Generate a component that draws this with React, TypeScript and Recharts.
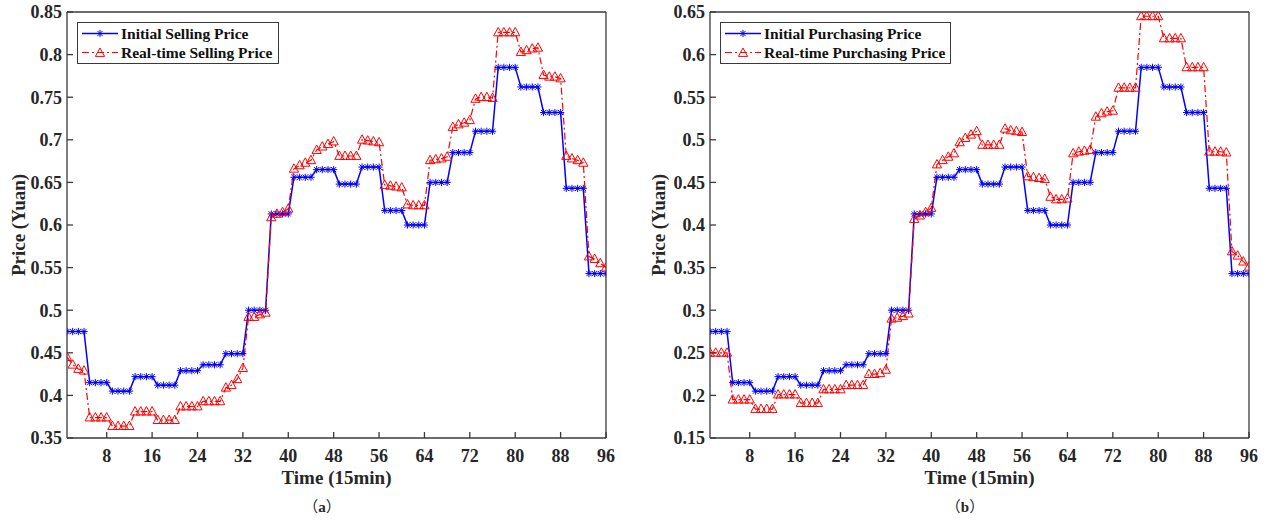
import React from 'react';
import { LineChart, Line, XAxis, YAxis, Legend } from 'recharts';

// 96 quarter-hour slots of one day
const timeSlots = Array.from({ length: 96 }, (_, i) => i + 1);
const xTicks = [8, 16, 24, 32, 40, 48, 56, 64, 72, 80, 88, 96];
const sellingTicks = [0.35, 0.4, 0.45, 0.5, 0.55, 0.6, 0.65, 0.7, 0.75, 0.8, 0.85];
const purchasingTicks = [0.15, 0.2, 0.25, 0.3, 0.35, 0.4, 0.45, 0.5, 0.55, 0.6, 0.65];

const initialSelling = [
  0.475, 0.475, 0.475, 0.475, 0.415, 0.415, 0.415, 0.415, 0.405, 0.405, 0.405, 0.405,
  0.422, 0.422, 0.422, 0.422, 0.412, 0.412, 0.412, 0.412, 0.429, 0.429, 0.429, 0.429,
  0.436, 0.436, 0.436, 0.436, 0.449, 0.449, 0.449, 0.449, 0.5, 0.5, 0.5, 0.5,
  0.613, 0.613, 0.613, 0.613, 0.656, 0.656, 0.656, 0.656, 0.665, 0.665, 0.665, 0.665,
  0.648, 0.648, 0.648, 0.648, 0.668, 0.668, 0.668, 0.668, 0.617, 0.617, 0.617, 0.617,
  0.6, 0.6, 0.6, 0.6, 0.65, 0.65, 0.65, 0.65, 0.685, 0.685, 0.685, 0.685,
  0.71, 0.71, 0.71, 0.71, 0.785, 0.785, 0.785, 0.785, 0.762, 0.762, 0.762, 0.762,
  0.732, 0.732, 0.732, 0.732, 0.643, 0.643, 0.643, 0.643, 0.543, 0.543, 0.543, 0.543,
];

const realtimeSelling = [
  0.445, 0.436, 0.431, 0.429, 0.374, 0.374, 0.374, 0.374, 0.364, 0.364, 0.364, 0.364,
  0.381, 0.381, 0.381, 0.381, 0.371, 0.371, 0.371, 0.371, 0.387, 0.387, 0.387, 0.387,
  0.393, 0.393, 0.393, 0.393, 0.409, 0.412, 0.419, 0.432, 0.492, 0.492, 0.495, 0.497,
  0.609, 0.613, 0.615, 0.619, 0.666, 0.67, 0.673, 0.676, 0.688, 0.692, 0.695, 0.698,
  0.681, 0.681, 0.681, 0.681, 0.7, 0.699, 0.698, 0.697, 0.647, 0.646, 0.645, 0.644,
  0.624, 0.623, 0.623, 0.623, 0.676, 0.677, 0.678, 0.68, 0.715, 0.718, 0.72, 0.723,
  0.748, 0.75, 0.75, 0.749, 0.826, 0.826, 0.826, 0.826, 0.803, 0.805, 0.807, 0.808,
  0.776, 0.774, 0.774, 0.772, 0.681, 0.678, 0.676, 0.673, 0.563, 0.56, 0.555, 0.55,
];

const initialPurchasing = [
  0.275, 0.275, 0.275, 0.275, 0.215, 0.215, 0.215, 0.215, 0.205, 0.205, 0.205, 0.205,
  0.222, 0.222, 0.222, 0.222, 0.212, 0.212, 0.212, 0.212, 0.229, 0.229, 0.229, 0.229,
  0.236, 0.236, 0.236, 0.236, 0.249, 0.249, 0.249, 0.249, 0.3, 0.3, 0.3, 0.3,
  0.413, 0.413, 0.413, 0.413, 0.456, 0.456, 0.456, 0.456, 0.465, 0.465, 0.465, 0.465,
  0.448, 0.448, 0.448, 0.448, 0.468, 0.468, 0.468, 0.468, 0.417, 0.417, 0.417, 0.417,
  0.4, 0.4, 0.4, 0.4, 0.45, 0.45, 0.45, 0.45, 0.485, 0.485, 0.485, 0.485,
  0.51, 0.51, 0.51, 0.51, 0.585, 0.585, 0.585, 0.585, 0.562, 0.562, 0.562, 0.562,
  0.532, 0.532, 0.532, 0.532, 0.443, 0.443, 0.443, 0.443, 0.343, 0.343, 0.343, 0.343,
];

const realtimePurchasing = [
  0.25, 0.25, 0.25, 0.25, 0.195, 0.195, 0.195, 0.195, 0.184, 0.184, 0.184, 0.184,
  0.201, 0.201, 0.201, 0.201, 0.191, 0.191, 0.191, 0.191, 0.207, 0.207, 0.207, 0.207,
  0.212, 0.212, 0.212, 0.212, 0.225, 0.225, 0.226, 0.23, 0.29, 0.291, 0.293, 0.296,
  0.407, 0.411, 0.415, 0.42, 0.471, 0.476, 0.48, 0.484, 0.497, 0.502, 0.506, 0.51,
  0.494, 0.494, 0.494, 0.494, 0.513, 0.511, 0.51, 0.509, 0.457, 0.456, 0.455, 0.454,
  0.433, 0.43, 0.43, 0.431, 0.484, 0.486, 0.487, 0.488, 0.527, 0.531, 0.533, 0.534,
  0.561, 0.561, 0.561, 0.561, 0.645, 0.645, 0.645, 0.645, 0.619, 0.619, 0.619, 0.619,
  0.585, 0.585, 0.585, 0.585, 0.486, 0.486, 0.486, 0.485, 0.369, 0.364, 0.357, 0.351,
];

const FONT = "'Liberation Serif', 'Times New Roman', Tinos, 'DejaVu Serif', serif";
const CJK_FONT = "'Noto Sans CJK SC', 'Noto Sans CJK JP', sans-serif";
const INK = '#262626';
const AXIS = '#3a3a3a';
const BLUE = '#0000ff';
const RED = '#ff0000';

const Star = (props: any) => {
  const { cx, cy, index } = props;
  if (cx == null || cy == null) return <g key={`s${index}`} />;
  const r = 3.6;
  const d = 2.6;
  return (
    <g key={`s${index}`} stroke={BLUE} strokeWidth={1}>
      <line x1={cx - r} y1={cy} x2={cx + r} y2={cy} />
      <line x1={cx} y1={cy - r} x2={cx} y2={cy + r} />
      <line x1={cx - d} y1={cy - d} x2={cx + d} y2={cy + d} />
      <line x1={cx - d} y1={cy + d} x2={cx + d} y2={cy - d} />
    </g>
  );
};

const Tri = (props: any) => {
  const { cx, cy, index } = props;
  if (cx == null || cy == null) return <g key={`t${index}`} />;
  const pts = `${cx},${cy - 5} ${cx - 4.6},${cy + 3.4} ${cx + 4.6},${cy + 3.4}`;
  return <polygon key={`t${index}`} points={pts} fill="none" stroke={RED} strokeWidth={1} />;
};

const LegendBox = (props: any) => {
  const items = props.payload || [];
  return (
    <div
      style={{
        border: `1.5px solid ${AXIS}`,
        background: '#fff',
        padding: '1px 5px 1px 3px',
        fontFamily: FONT,
        fontWeight: 'bold',
        fontSize: 15.5,
        color: '#111',
        lineHeight: '19px',
      }}
    >
      {items.map((p: any) => {
        const isInitial = p.dataKey === 'initial';
        return (
          <div key={p.value} style={{ display: 'flex', alignItems: 'center', whiteSpace: 'nowrap' }}>
            <svg width={38} height={19} style={{ display: 'block' }}>
              <line
                x1={1}
                y1={9.5}
                x2={37}
                y2={9.5}
                stroke={isInitial ? BLUE : RED}
                strokeWidth={isInitial ? 1.5 : 1.2}
                strokeDasharray={isInitial ? undefined : '7 3 2 3'}
              />
              {isInitial ? <Star cx={19} cy={9.5} index={0} /> : <Tri cx={19} cy={10} index={0} />}
            </svg>
            <span style={{ marginLeft: 2 }}>{p.value}</span>
          </div>
        );
      })}
    </div>
  );
};

const tickStyle = { fill: INK, fontSize: 18, fontFamily: FONT, fontWeight: 'bold' };

interface PanelProps {
  left: number;
  width: number;
  rightMargin: number;
  yAxisWidth: number;
  yTicks: number[];
  initial: number[];
  realtime: number[];
  initialName: string;
  realtimeName: string;
  legendLeft: number;
  tag: string;
  tagX: number;
}

const PricePanel: React.FC<PanelProps> = (p) => {
  const rows = timeSlots.map((t, i) => ({ time: t, initial: p.initial[i], realtime: p.realtime[i] }));
  const yDomain = [p.yTicks[0], p.yTicks[p.yTicks.length - 1]];
  return (
    <>
      <div style={{ position: 'absolute', left: p.left, top: 0, width: p.width, height: 522 }}>
        <LineChart
          width={p.width}
          height={522}
          data={rows}
          margin={{ top: 11, right: p.rightMargin, left: 12, bottom: 24 }}
        >
          <XAxis
            dataKey="time"
            type="number"
            domain={[1, 96]}
            ticks={xTicks}
            interval={0}
            allowDataOverflow
            height={60}
            tickSize={-6}
            tickMargin={17}
            tick={tickStyle}
            stroke={AXIS}
            strokeWidth={1.3}
            label={{
              value: 'Time (15min)',
              position: 'insideTop',
              offset: 33,
              style: { fill: INK, fontSize: 19, fontFamily: FONT, fontWeight: 'bold' },
            }}
          />
          <XAxis
            xAxisId="top"
            orientation="top"
            type="number"
            domain={[1, 96]}
            ticks={xTicks}
            interval={0}
            allowDataOverflow
            height={1}
            tickSize={-6}
            tick={false}
            stroke={AXIS}
            strokeWidth={1.3}
          />
          <YAxis
            type="number"
            domain={yDomain}
            ticks={p.yTicks}
            interval={0}
            allowDataOverflow
            width={p.yAxisWidth}
            tickSize={-6}
            tickMargin={11}
            tick={tickStyle}
            stroke={AXIS}
            strokeWidth={1.3}
            label={{
              value: 'Price (Yuan)',
              angle: -90,
              position: 'insideLeft',
              offset: 6,
              style: { fill: INK, fontSize: 19, fontFamily: FONT, fontWeight: 'bold', textAnchor: 'middle' },
            }}
          />
          <YAxis
            yAxisId="right"
            orientation="right"
            type="number"
            domain={yDomain}
            ticks={p.yTicks}
            interval={0}
            allowDataOverflow
            width={1}
            tickSize={-6}
            tick={false}
            stroke={AXIS}
            strokeWidth={1.3}
          />
          <Legend
            layout="vertical"
            align="center"
            verticalAlign="middle"
            wrapperStyle={{ left: p.legendLeft, top: 22, width: 'auto' }}
            content={LegendBox}
          />
          <Line
            type="linear"
            dataKey="initial"
            name={p.initialName}
            stroke={BLUE}
            strokeWidth={1.5}
            dot={Star}
            activeDot={false}
            isAnimationActive={false}
          />
          <Line
            type="linear"
            dataKey="realtime"
            name={p.realtimeName}
            stroke={RED}
            strokeWidth={1.2}
            strokeDasharray="7 3 2 3"
            dot={Tri}
            activeDot={false}
            isAnimationActive={false}
          />
        </LineChart>
      </div>
      <div
        style={{
          position: 'absolute',
          left: p.tagX - 30,
          top: 496,
          width: 60,
          textAlign: 'center',
          fontFamily: FONT,
          fontWeight: 'bold',
          fontSize: 15,
          lineHeight: '20px',
          color: INK,
          whiteSpace: 'nowrap',
        }}
      >
        <span style={{ fontFamily: CJK_FONT, fontWeight: 'normal' }}>（</span>
        {p.tag}
        <span style={{ fontFamily: CJK_FONT, fontWeight: 'normal' }}>）</span>
      </div>
    </>
  );
};

export default function App() {
  return (
    <div style={{ position: 'absolute', left: 0, top: 0, width: 1271, height: 522, background: '#fff' }}>
      <PricePanel
        left={0}
        width={640}
        rightMargin={33}
        yAxisWidth={55}
        yTicks={sellingTicks}
        initial={initialSelling}
        realtime={realtimeSelling}
        initialName="Initial Selling Price"
        realtimeName="Real-time Selling Price"
        legendLeft={77}
        tag="a"
        tagX={322}
      />
      <PricePanel
        left={640}
        width={631}
        rightMargin={21}
        yAxisWidth={58}
        yTicks={purchasingTicks}
        initial={initialPurchasing}
        realtime={realtimePurchasing}
        initialName="Initial Purchasing Price"
        realtimeName="Real-time Purchasing Price"
        legendLeft={80}
        tag="b"
        tagX={965}
      />
    </div>
  );
}
